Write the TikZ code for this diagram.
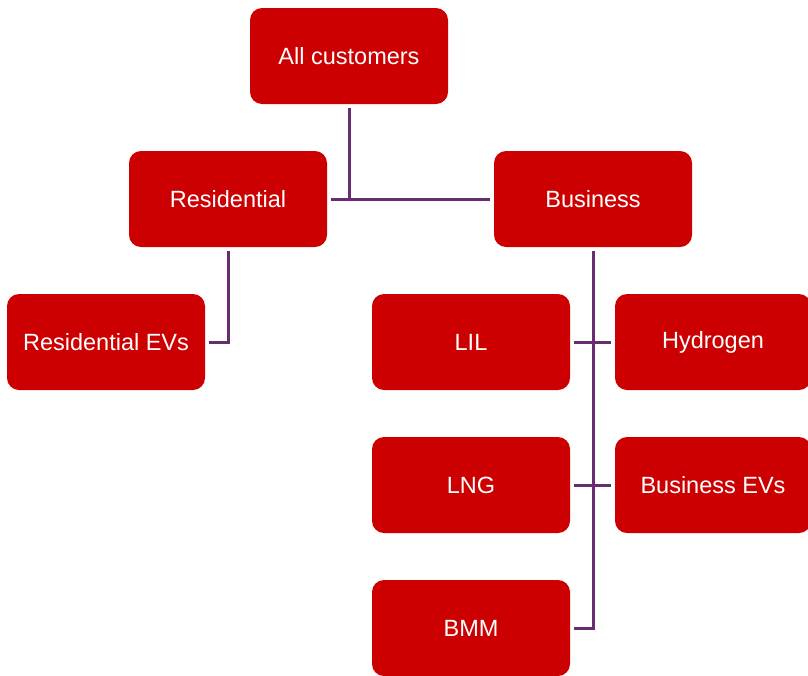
\documentclass[tikz,border=0pt]{standalone}
\usepackage{fontspec}
\setmainfont{Liberation Sans}
\definecolor{boxred}{RGB}{204,0,0}
\definecolor{linkpurple}{RGB}{104,44,112}
\begin{document}
\begin{tikzpicture}[x=1pt,y=-1pt,
  unit/.style={fill=boxred, rounded corners=12pt, text=white,
    minimum width=198pt, minimum height=96pt, inner sep=0pt,
    font=\fontsize{23.5}{28}\selectfont},
  link/.style={draw=linkpurple, line width=3pt}]
\useasboundingbox (0,0) rectangle (808,675);
\begin{scope}
\clip (0,0) rectangle (808,675);
\node[unit] (all) at (349,56) {All customers};
\node[unit] (res) at (228,199) {Residential};
\node[unit] (bus) at (593,199) {Business};
\node[unit] (resev) at (106,342) {Residential EVs};
\node[unit] (lil) at (471,342) {LIL};
\node[unit, minimum width=196pt] (hyd) at (713,342) {Hydrogen};
\node[unit] (lng) at (471,485) {LNG};
\node[unit, minimum width=196pt] (busev) at (713,485) {Business EVs};
\node[unit] (bmm) at (471,628) {BMM};
\end{scope}
% connectors
\coordinate (j0) at (349,199);
\draw[link] ([yshift=-4pt]all.south) -- (j0);
\draw[link] ([xshift=4pt]res.east) -- ([xshift=-4pt]bus.west);
\draw[link] ([yshift=-4pt]res.south) |- ([xshift=4pt]resev.east);
\draw[link] ([yshift=-4pt]bus.south) |- ([xshift=4pt]bmm.east);
\draw[link] ([xshift=4pt]lil.east) -- ([xshift=-4pt]hyd.west);
\draw[link] ([xshift=4pt]lng.east) -- ([xshift=-4pt]busev.west);
\end{tikzpicture}
\end{document}
